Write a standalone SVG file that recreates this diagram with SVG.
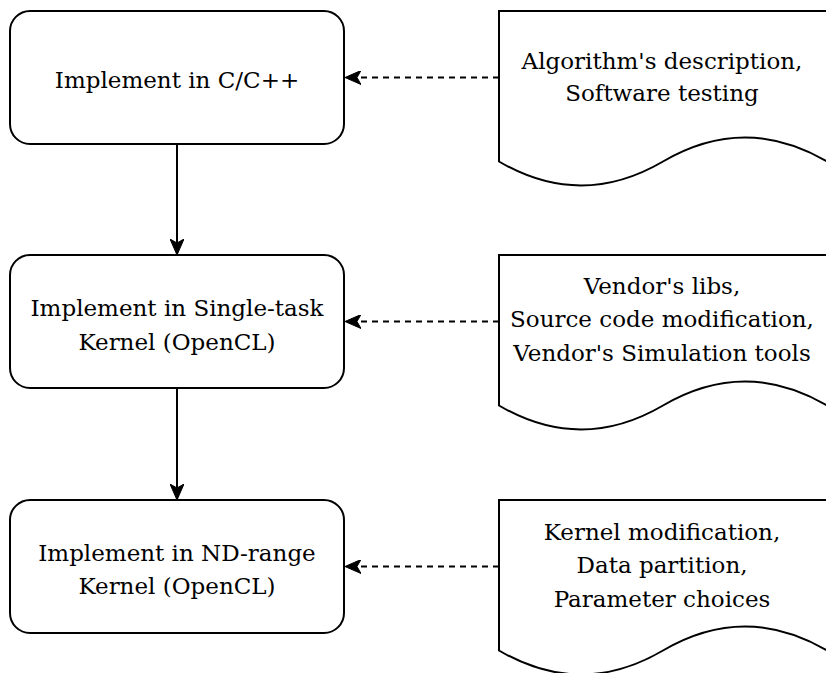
<svg xmlns="http://www.w3.org/2000/svg" width="826" height="673" viewBox="0 0 826 673">
  <style>
    .box { fill: #ffffff; stroke: #000000; stroke-width: 2; }
    .doc { fill: #ffffff; stroke: #000000; stroke-width: 2; stroke-linejoin: miter; }
    .lbl { font-family: "DejaVu Serif", serif; font-size: 23px; fill: #000000; text-anchor: middle; }
    .edge { fill: none; stroke: #000000; stroke-width: 2; }
    .dash { stroke-dasharray: 6 5; }
  </style>
  <defs>
    <marker id="arrow" viewBox="0 0 16 14" refX="16" refY="7" markerWidth="16" markerHeight="14" markerUnits="userSpaceOnUse" orient="auto">
      <path d="M0,0 L16,7 L0,14 L4,7 Z" fill="#000000" stroke="#000000" stroke-width="1" stroke-linejoin="miter"/>
    </marker>
  </defs>
  <rect width="826" height="673" fill="#ffffff"/>

  <g id="connectors">
    <path class="edge" d="M177,144 L177,255" marker-end="url(#arrow)"/>
    <path class="edge" d="M177,388 L177,500" marker-end="url(#arrow)"/>
    <path class="edge dash" d="M499,77.5 L345,77.5" marker-end="url(#arrow)"/>
    <path class="edge dash" d="M499,321.5 L345,321.5" marker-end="url(#arrow)"/>
    <path class="edge dash" d="M499,566.5 L345,566.5" marker-end="url(#arrow)"/>
  </g>

  <g id="node-cpp">
    <rect class="box" x="10" y="11" width="334" height="133" rx="20" ry="20"/>
    <text class="lbl" x="177" y="88">Implement in C/C++</text>
  </g>

  <g id="node-single-task">
    <rect class="box" x="10" y="255" width="334" height="133" rx="20" ry="20"/>
    <text class="lbl" x="177" y="316">Implement in Single-task</text>
    <text class="lbl" x="177" y="349.5">Kernel (OpenCL)</text>
  </g>

  <g id="node-ndrange">
    <rect class="box" x="10" y="500" width="334" height="133" rx="20" ry="20"/>
    <text class="lbl" x="177" y="560.5">Implement in ND-range</text>
    <text class="lbl" x="177" y="594">Kernel (OpenCL)</text>
  </g>

  <g id="doc-1">
    <path class="doc" d="M499,11 L827,11 L827,161.5 Q745,113.5 663,161.5 Q581,209.5 499,161.5 Z"/>
    <text class="lbl" x="662" y="68.5">Algorithm's description,</text>
    <text class="lbl" x="662" y="101">Software testing</text>
  </g>

  <g id="doc-2">
    <path class="doc" d="M499,255 L827,255 L827,405.5 Q745,357.5 663,405.5 Q581,453.5 499,405.5 Z"/>
    <text class="lbl" x="662" y="293.5">Vendor's libs,</text>
    <text class="lbl" x="662" y="327">Source code modification,</text>
    <text class="lbl" x="662" y="360.5">Vendor's Simulation tools</text>
  </g>

  <g id="doc-3">
    <path class="doc" d="M499,500 L827,500 L827,650.5 Q745,602.5 663,650.5 Q581,698.5 499,650.5 Z"/>
    <text class="lbl" x="662" y="539.5">Kernel modification,</text>
    <text class="lbl" x="662" y="573">Data partition,</text>
    <text class="lbl" x="662" y="606.5">Parameter choices</text>
  </g>
</svg>
